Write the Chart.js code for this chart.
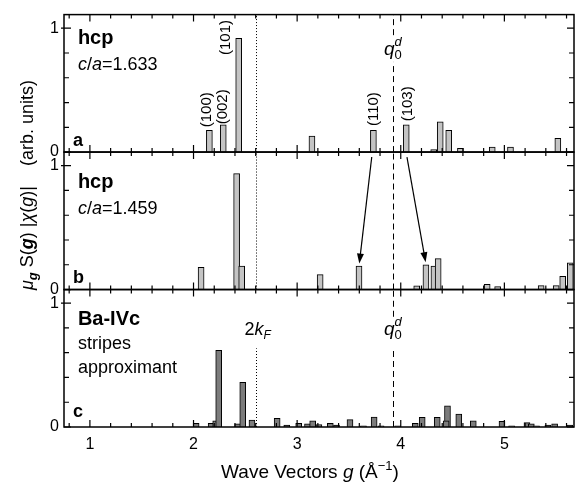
<!DOCTYPE html>
<html>
<head>
<meta charset="utf-8">
<script src="https://cdn.jsdelivr.net/npm/chart.js@4.4.0/dist/chart.umd.min.js"></script>
<style>
  html, body { margin: 0; padding: 0; background: #fff; }
</style>
</head>
<body>
<canvas id="canvas" width="580" height="488"></canvas>
<script>
// panel a: hcp c/a=1.633
const gA = [2.153, 2.287, 2.436, 3.143, 3.736, 4.053, 4.318, 4.381, 4.463, 4.576, 4.883, 5.059, 5.516];
const sA = [0.176, 0.22, 0.918, 0.13, 0.176, 0.22, 0.02, 0.245, 0.176, 0.03, 0.04, 0.04, 0.11];
// panel b: hcp c/a=1.459
const gB = [2.073, 2.416, 2.465, 3.222, 3.597, 4.154, 4.243, 4.320, 4.361, 4.834, 4.935, 5.355, 5.500, 5.563, 5.636];
const sB = [0.18, 0.936, 0.19, 0.12, 0.19, 0.03, 0.2, 0.19, 0.25, 0.042, 0.024, 0.032, 0.032, 0.107, 0.216];
// panel c: Ba-IVc stripes approximant
const gC = [2.025, 2.17, 2.214, 2.243, 2.426, 2.475, 2.564, 2.807, 2.90, 3.015, 3.10, 3.15, 3.21, 3.32, 3.38,
            3.51, 3.64, 3.743, 3.81, 3.97, 4.14, 4.207, 4.352, 4.451, 4.438, 4.56, 4.70, 4.977, 5.07, 5.218,
            5.26, 5.31, 5.42, 5.485, 5.63];
const sC = [0.03, 0.03, 0.05, 0.62, 0.025, 0.36, 0.055, 0.07, 0.015, 0.03, 0.025, 0.05, 0.02, 0.03, 0.015,
            0.06, 0.01, 0.08, 0.01, 0.01, 0.03, 0.078, 0.078, 0.17, 0.05, 0.105, 0.05, 0.045, 0.01, 0.035,
            0.025, 0.01, 0.015, 0.025, 0.015];

// miller indices in panel a
const millerText = ['(100)', '(002)', '(101)', '(110)', '(103)'];
const millerG = [2.129, 2.279, 2.308, 3.736, 4.065];
const millerY = [0.20, 0.224, 0.784, 0.21, 0.248];

const xLabels = [1, 2, 3, 4, 5];
const twoKF = 2.6;
const q0d = 3.922;
const gMin = 0.75, gMax = 5.672;
const yMax = 1.11;

const FONT = "'Liberation Sans', Arial, sans-serif";
const LIGHT = '#c4c4c4';
const DARK = '#7c7c7c';

function pts(g, s) {
  return g.map((v, i) => ({ x: v, y: s[i] }));
}

function yAxis(w) {
  return {
    type: 'linear', position: 'left', stack: 'panels', stackWeight: 1, weight: w,
    min: 0, max: yMax,
    grid: { display: false, drawTicks: false },
    border: { display: false },
    ticks: {
      stepSize: 0.2, autoSkip: false, includeBounds: false, padding: 5, color: '#000',
      font: { family: FONT, size: 16 },
      callback: v => (Math.abs(v) < 1e-6 ? '0' : Math.abs(v - 1) < 1e-6 ? '1' : '')
    },
    afterFit: s => { s.width = 64; }
  };
}

// draw a row of text pieces, each {t, f, dy}
function rich(ctx, pieces, x, y, align) {
  let w = 0;
  pieces.forEach(p => { ctx.font = p.f; w += ctx.measureText(p.t).width; });
  let cx = align === 'center' ? x - w / 2 : x;
  ctx.textAlign = 'left';
  ctx.textBaseline = 'alphabetic';
  pieces.forEach(p => {
    ctx.font = p.f;
    ctx.fillText(p.t, cx, y + (p.dy || 0));
    cx += ctx.measureText(p.t).width;
  });
}

function qLabel(ctx, x, y) {
  ctx.textAlign = 'left';
  ctx.textBaseline = 'alphabetic';
  ctx.font = 'italic 19px ' + FONT;
  const qw = ctx.measureText('q').width;
  const x0 = x - (qw + 7) / 2;
  ctx.fillText('q', x0, y);
  ctx.font = '13px ' + FONT;
  ctx.fillText('0', x0 + qw, y + 4);
  ctx.font = 'italic 13px ' + FONT;
  ctx.fillText('d', x0 + qw, y - 9);
}

const decor = {
  id: 'decor',
  afterDatasetsDraw(chart) {
    const ctx = chart.ctx;
    const x = chart.scales.x;
    const area = chart.chartArea;
    const panels = [chart.scales.yA, chart.scales.yB, chart.scales.yC];
    ctx.save();
    ctx.strokeStyle = '#000';
    ctx.fillStyle = '#000';

    // vertical marker lines
    function vline(g, sc, v0, v1, dash) {
      const px = Math.round(x.getPixelForValue(g)) + 0.5;
      ctx.setLineDash(dash);
      ctx.lineWidth = 1;
      ctx.beginPath();
      ctx.moveTo(px, sc.getPixelForValue(v0));
      ctx.lineTo(px, sc.getPixelForValue(v1));
      ctx.stroke();
    }
    const dot = [1, 2], dash = [6, 4];
    vline(twoKF, panels[0], 0, yMax, dot);
    vline(twoKF, panels[1], 0, yMax, dot);
    vline(twoKF, panels[2], 0, 0.635, dot);
    vline(q0d, panels[0], 0, 0.728, dash);
    vline(q0d, panels[0], 0.944, yMax, dash);
    vline(q0d, panels[1], 0, yMax, dash);
    vline(q0d, panels[2], 0, 0.635, dash);
    vline(q0d, panels[2], 0.89, yMax, dash);
    ctx.setLineDash([]);

    // frames and inward ticks
    panels.forEach(sc => {
      const top = sc.top, bot = sc.bottom;
      ctx.lineWidth = 1.5;
      ctx.strokeRect(area.left, top, area.right - area.left, bot - top);
      ctx.lineWidth = 1.2;
      ctx.beginPath();
      for (let i = 4; i <= 28; i++) {
        const g = i / 5;
        const px = x.getPixelForValue(g);
        const len = i % 5 === 0 ? 7 : 4;
        ctx.moveTo(px, bot); ctx.lineTo(px, bot - len);
        ctx.moveTo(px, top); ctx.lineTo(px, top + len);
      }
      for (let j = 0; j <= 5; j++) {
        const py = sc.getPixelForValue(j / 5);
        const len = (j === 0 || j === 5) ? 7 : 5;
        ctx.moveTo(area.left - (j === 5 ? 3 : 0), py); ctx.lineTo(area.left + len, py);
        ctx.moveTo(area.right, py); ctx.lineTo(area.right - len, py);
      }
      ctx.stroke();
    });

    // arrows from panel a peaks down to panel b
    function arrow(g0, v0, g1, v1, sc) {
      const x0 = x.getPixelForValue(g0), y0 = sc.getPixelForValue(v0);
      const x1 = x.getPixelForValue(g1), y1 = sc.getPixelForValue(v1);
      const a = Math.atan2(y1 - y0, x1 - x0);
      ctx.lineWidth = 1.2;
      ctx.beginPath();
      ctx.moveTo(x0, y0);
      ctx.lineTo(x1 - 8 * Math.cos(a), y1 - 8 * Math.sin(a));
      ctx.stroke();
      ctx.beginPath();
      ctx.moveTo(x1, y1);
      ctx.lineTo(x1 - 10 * Math.cos(a) + 3.5 * Math.sin(a), y1 - 10 * Math.sin(a) - 3.5 * Math.cos(a));
      ctx.lineTo(x1 - 10 * Math.cos(a) - 3.5 * Math.sin(a), y1 - 10 * Math.sin(a) + 3.5 * Math.cos(a));
      ctx.closePath();
      ctx.fill();
    }
    arrow(3.72, 1.07, 3.60, 0.21, panels[1]);
    arrow(4.06, 1.07, 4.24, 0.22, panels[1]);

    // miller index labels
    ctx.font = '15px ' + FONT;
    millerText.forEach((t, i) => {
      ctx.save();
      ctx.translate(x.getPixelForValue(millerG[i]), panels[0].getPixelForValue(millerY[i]));
      ctx.rotate(-Math.PI / 2);
      ctx.textAlign = 'left';
      ctx.textBaseline = 'middle';
      ctx.fillText(t, 0, 0);
      ctx.restore();
    });

    // panel texts
    const B = 'bold 20px ' + FONT, R = '18px ' + FONT, I = 'italic 18px ' + FONT;
    const gl = 0.884;
    const xl = x.getPixelForValue(gl);
    rich(ctx, [{ t: 'hcp', f: B }], xl, panels[0].getPixelForValue(0.872));
    rich(ctx, [{ t: 'c', f: I }, { t: '/', f: R }, { t: 'a', f: I }, { t: '=1.633', f: R }], xl, panels[0].getPixelForValue(0.66));
    rich(ctx, [{ t: 'hcp', f: B }], xl, panels[1].getPixelForValue(0.816));
    rich(ctx, [{ t: 'c', f: I }, { t: '/', f: R }, { t: 'a', f: I }, { t: '=1.459', f: R }], xl, panels[1].getPixelForValue(0.61));
    rich(ctx, [{ t: 'Ba-IVc', f: B }], xl, panels[2].getPixelForValue(0.825));
    rich(ctx, [{ t: 'stripes', f: R }], xl, panels[2].getPixelForValue(0.627));
    rich(ctx, [{ t: 'approximant', f: R }], xl, panels[2].getPixelForValue(0.44));
    const xs = x.getPixelForValue(0.836);
    const L = 'bold 18px ' + FONT;
    rich(ctx, [{ t: 'a', f: L }], xs, panels[0].getPixelForValue(0.05));
    rich(ctx, [{ t: 'b', f: L }], xs, panels[1].getPixelForValue(0.056));
    rich(ctx, [{ t: 'c', f: L }], xs, panels[2].getPixelForValue(0.08));

    rich(ctx, [{ t: '2', f: R }, { t: 'k', f: I }, { t: 'F', f: 'italic 12px ' + FONT, dy: 4 }],
      x.getPixelForValue(twoKF + 0.02), panels[2].getPixelForValue(0.74), 'center');
    qLabel(ctx, x.getPixelForValue(q0d), panels[0].getPixelForValue(0.78));
    qLabel(ctx, x.getPixelForValue(q0d), panels[2].getPixelForValue(0.74));

    // x title
    const T = '19px ' + FONT, TI = 'italic 19px ' + FONT;
    rich(ctx, [{ t: 'Wave Vectors ', f: T }, { t: 'g', f: TI }, { t: ' (Å', f: T },
      { t: '\u22121', f: '13px ' + FONT, dy: -8 }, { t: ')', f: T }],
      x.getPixelForValue(3.124), chart.height - 10, 'center');

    // y title
    ctx.save();
    ctx.translate(33, 185);
    ctx.rotate(-Math.PI / 2);
    const Y = '18px ' + FONT, YI = 'italic 18px ' + FONT, YB = 'bold italic 18px ' + FONT;
    rich(ctx, [{ t: '\u03bc', f: YI }, { t: 'g', f: 'bold italic 13px ' + FONT, dy: 4 },
      { t: ' S(', f: Y }, { t: 'g', f: YB }, { t: ') |', f: Y }, { t: '\u03c7', f: YI },
      { t: '(', f: Y }, { t: 'g', f: YI }, { t: ')|    (arb. units)', f: Y }], 0, 0, 'center');
    ctx.restore();

    ctx.restore();
  }
};

new Chart(document.getElementById('canvas'), {
  type: 'bar',
  data: {
    datasets: [
      { label: 'a', data: pts(gA, sA), yAxisID: 'yA', backgroundColor: LIGHT, borderColor: '#000', borderWidth: 1, barThickness: 6, grouped: false },
      { label: 'b', data: pts(gB, sB), yAxisID: 'yB', backgroundColor: LIGHT, borderColor: '#000', borderWidth: 1, barThickness: 6, grouped: false },
      { label: 'c', data: pts(gC, sC), yAxisID: 'yC', backgroundColor: DARK, borderColor: '#000', borderWidth: 1, barThickness: 6, grouped: false }
    ]
  },
  options: {
    responsive: false,
    animation: false,
    layout: { padding: { top: 10, right: 6, left: 0, bottom: 0 } },
    plugins: { legend: { display: false }, tooltip: { enabled: false } },
    scales: {
      x: {
        type: 'linear', min: gMin, max: gMax, offset: false,
        grid: { display: false, drawTicks: false },
        border: { display: false },
        afterBuildTicks: s => { s.ticks = xLabels.map(v => ({ value: v })); },
        ticks: { autoSkip: false, padding: 8, color: '#000', font: { family: FONT, size: 16 } },
        afterFit: s => { s.height = 61; }
      },
      yA: yAxis(3),
      yB: yAxis(2),
      yC: yAxis(1)
    }
  },
  plugins: [decor]
});
</script>
</body>
</html>
